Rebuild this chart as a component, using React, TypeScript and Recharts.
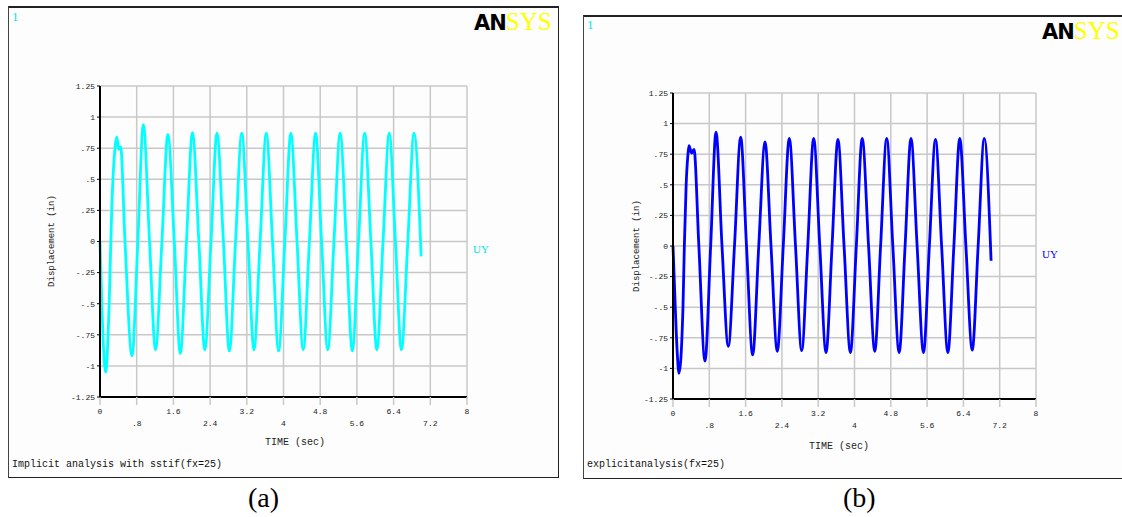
import React from 'react';
import {
  LineChart,
  Line,
  XAxis,
  YAxis,
  CartesianGrid,
} from 'recharts';

// Implicit analysis (a): time (sec) / UY (in)
const leftTime = [
  0, 0.04, 0.08, 0.124, 0.2, 0.255, 0.33, 0.364, 0.41, 0.45, 0.545, 0.698, 0.825, 0.944,
  1.08, 1.21, 1.35, 1.48, 1.62, 1.75, 1.885, 2.015, 2.155, 2.285, 2.42, 2.55, 2.69, 2.82,
  2.955, 3.09, 3.225, 3.357, 3.49, 3.625, 3.76, 3.893, 4.03, 4.16, 4.295, 4.43, 4.565, 4.7,
  4.83, 4.965, 5.1, 5.235, 5.37, 5.5, 5.635, 5.77, 5.905, 6.035, 6.17, 6.305, 6.44, 6.57,
  6.71, 6.845, 7.0,
];
const leftUy = [
  0, -0.5, -0.88, -1.05, -0.5, 0.25, 0.76, 0.84, 0.74, 0.76, 0, -0.92, 0, 0.94,
  0, -0.87, 0, 0.86, 0, -0.9, 0, 0.875, 0, -0.87, 0, 0.87, 0, -0.88,
  0, 0.87, 0, -0.87, 0, 0.87, 0, -0.88, 0, 0.87, 0, -0.87, 0, 0.87,
  0, -0.87, 0, 0.87, 0, -0.88, 0, 0.87, 0, -0.87, 0, 0.87, 0, -0.87,
  0, 0.87, -0.12,
];

// Explicit analysis (b)
const rightTime = [
  0, 0.05, 0.09, 0.132, 0.22, 0.25, 0.29, 0.33, 0.353, 0.41, 0.463, 0.57, 0.705, 0.83, 0.948,
  1.08, 1.219, 1.355, 1.492, 1.62, 1.756, 1.89, 2.028, 2.16, 2.299, 2.43, 2.563, 2.7, 2.836,
  2.97, 3.1, 3.235, 3.373, 3.505, 3.635, 3.77, 3.91, 4.04, 4.17, 4.31, 4.447, 4.575, 4.71,
  4.845, 4.984, 5.115, 5.245, 5.38, 5.521, 5.65, 5.785, 5.92, 6.058, 6.19, 6.32, 6.455, 6.595,
  6.725, 6.86, 7.01,
];
const rightUy = [
  0, -0.5, -0.85, -1.04, -0.5, 0, 0.5, 0.75, 0.82, 0.76, 0.79, 0, -0.94, 0, 0.93,
  0, -0.82, 0, 0.89, 0, -0.89, 0, 0.85, 0, -0.86, 0, 0.88, 0, -0.855,
  0, 0.88, 0, -0.87, 0, 0.87, 0, -0.87, 0, 0.88, 0, -0.86, 0, 0.88,
  0, -0.87, 0, 0.88, 0, -0.87, 0, 0.87, 0, -0.87, 0, 0.88, 0, -0.85,
  0, 0.88, -0.12,
];

const xTicks = [0, 0.8, 1.6, 2.4, 3.2, 4, 4.8, 5.6, 6.4, 7.2, 8];
const xTickLabels = ['0', '.8', '1.6', '2.4', '3.2', '4', '4.8', '5.6', '6.4', '7.2', '8'];
const yTicks = [-1.25, -1, -0.75, -0.5, -0.25, 0, 0.25, 0.5, 0.75, 1, 1.25];
const yTickLabels = ['-1.25', '-1', '-.75', '-.5', '-.25', '0', '.25', '.5', '.75', '1', '1.25'];

const MONO = '"Liberation Mono", "DejaVu Sans Mono", monospace';
const SERIF = '"Liberation Serif", "DejaVu Serif", serif';
const GRID = '#c8c8c8';

const toRows = (t: number[], v: number[]) => t.map((time, i) => ({ time, uy: v[i] }));

const TimeTick = (props: any) => {
  const { x, y, payload } = props;
  const idx = xTicks.indexOf(payload.value);
  const label = xTickLabels[idx] ?? String(payload.value);
  return (
    <text
      x={x}
      y={y + (idx % 2 === 0 ? 7 : 19)}
      textAnchor="middle"
      fontFamily={MONO}
      fontSize={8}
      fill="#222"
    >
      {label}
    </text>
  );
};

interface PanelProps {
  rows: { time: number; uy: number }[];
  color: string;
  width: number;
  margin: { top: number; right: number; left: number; bottom: number };
}

const Plot: React.FC<PanelProps> = ({ rows, color, width, margin }) => (
  <LineChart width={width} height={480} data={rows} margin={margin}>
    <CartesianGrid stroke={GRID} strokeWidth={1.5} />
    <XAxis
      dataKey="time"
      type="number"
      domain={[0, 8]}
      ticks={xTicks}
      interval={0}
      height={30}
      tickSize={8}
      tickLine={{ stroke: GRID, strokeWidth: 1.5 }}
      axisLine={{ stroke: '#000', strokeWidth: 2 }}
      tick={<TimeTick />}
    />
    <YAxis
      type="number"
      domain={[-1.25, 1.25]}
      ticks={yTicks}
      interval={0}
      width={50}
      tickSize={3}
      tickLine={{ stroke: '#000' }}
      axisLine={{ stroke: '#000', strokeWidth: 2 }}
      tick={{ fontSize: 8, fontFamily: MONO, fill: '#222' }}
      tickFormatter={(v: number) => yTickLabels[yTicks.indexOf(v)] ?? String(v)}
    />
    <Line
      type="monotone"
      dataKey="uy"
      stroke={color}
      strokeWidth={2.8}
      dot={false}
      isAnimationActive={false}
    />
  </LineChart>
);

const abs = (left: number, top: number, extra: React.CSSProperties = {}): React.CSSProperties => ({
  position: 'absolute',
  left,
  top,
  whiteSpace: 'nowrap',
  lineHeight: 1,
  ...extra,
});

const Logo: React.FC<{ left: number; top: number }> = ({ left, top }) => (
  <div style={abs(left, top)}>
    <span style={{ fontFamily: '"DejaVu Sans", sans-serif', fontWeight: 900, fontSize: 21, color: '#000', letterSpacing: -1 }}>
      AN
    </span>
    <span style={{ fontFamily: SERIF, fontSize: 25, color: '#ffff00' }}>SYS</span>
  </div>
);

export default function App() {
  return (
    <div style={{ position: 'absolute', left: 0, top: 0, width: 1122, height: 517, background: '#fff', overflow: 'hidden' }}>
      {/* panel (a) */}
      <div style={{ position: 'absolute', left: 8, top: 6, width: 549, height: 469, borderTop: '2px solid #222', borderRight: '1px solid #222', borderBottom: '1px solid #222', borderLeft: '1px solid #444', background: '#fdfdfd' }} />
      <div style={{ position: 'absolute', left: 0, top: 0 }}>
        <Plot
          rows={toRows(leftTime, leftUy)}
          color="#00ffff"
          width={560}
          margin={{ top: 86, right: 93, left: 50, bottom: 53 }}
        />
      </div>
      <div style={abs(12, 10, { fontFamily: SERIF, fontSize: 13, color: '#00e5e5' })}>1</div>
      <Logo left={474} top={9} />
      <div style={abs(473, 244, { fontFamily: SERIF, fontSize: 11, color: '#00e0e0' })}>UY</div>
      <div style={abs(265, 438, { fontFamily: MONO, fontSize: 10, color: '#222' })}>TIME (sec)</div>
      <div style={abs(52, 241, { fontFamily: MONO, fontSize: 9, color: '#222', transform: 'translate(-50%, -50%) rotate(-90deg)' })}>
        Displacement (in)
      </div>
      <div style={abs(12, 460, { fontFamily: MONO, fontSize: 10, color: '#111' })}>Implicit analysis with sstif(fx=25)</div>
      <div style={abs(248, 484, { fontFamily: SERIF, fontSize: 28, color: '#000' })}>(a)</div>

      {/* panel (b) */}
      <div style={{ position: 'absolute', left: 583, top: 15, width: 560, height: 461, borderTop: '2px solid #222', borderBottom: '1px solid #222', borderLeft: '1px solid #444', background: '#fdfdfd' }} />
      <div style={{ position: 'absolute', left: 570, top: 0 }}>
        <Plot
          rows={toRows(rightTime, rightUy)}
          color="#0000ff"
          width={552}
          margin={{ top: 93, right: 86, left: 53, bottom: 51 }}
        />
      </div>
      <div style={abs(587, 18, { fontFamily: SERIF, fontSize: 13, color: '#00e5e5' })}>1</div>
      <Logo left={1042} top={18} />
      <div style={abs(1042, 249, { fontFamily: SERIF, fontSize: 11, color: '#0000ff' })}>UY</div>
      <div style={abs(809, 442, { fontFamily: MONO, fontSize: 10, color: '#222' })}>TIME (sec)</div>
      <div style={abs(637, 246, { fontFamily: MONO, fontSize: 9, color: '#222', transform: 'translate(-50%, -50%) rotate(-90deg)' })}>
        Displacement (in)
      </div>
      <div style={abs(587, 460, { fontFamily: MONO, fontSize: 10, color: '#111' })}>explicitanalysis(fx=25)</div>
      <div style={abs(843, 484, { fontFamily: SERIF, fontSize: 28, color: '#000' })}>(b)</div>
    </div>
  );
}
